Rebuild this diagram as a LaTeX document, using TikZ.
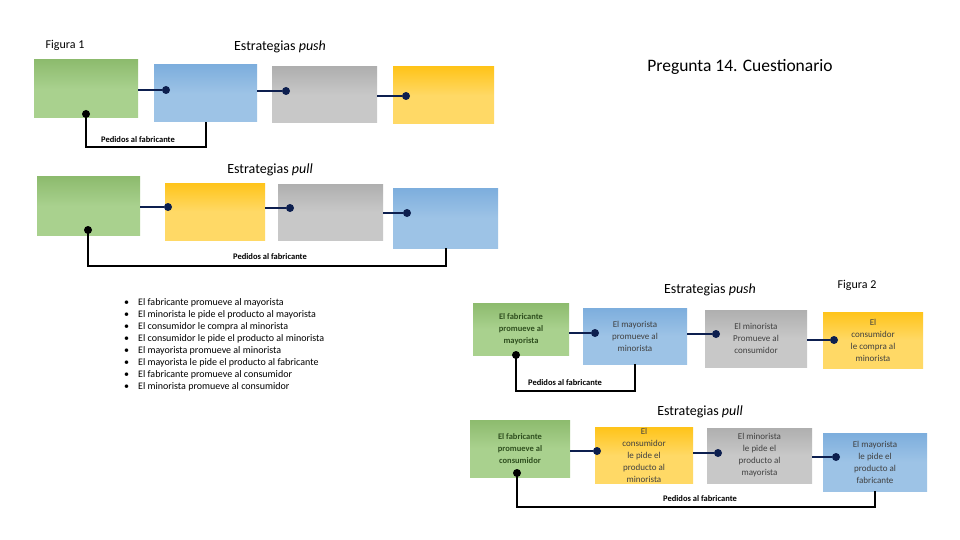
\documentclass[tikz,border=0pt]{standalone}
\usepackage{fontspec}
\setmainfont{Carlito}
\usetikzlibrary{calc}
\definecolor{gfill}{HTML}{A9D18E}
\definecolor{gtop}{HTML}{8DBB6E}
\definecolor{bfill}{HTML}{9DC3E6}
\definecolor{btop}{HTML}{7DAEDD}
\definecolor{rfill}{HTML}{C8C8C8}
\definecolor{rtop}{HTML}{AFAFAF}
\definecolor{yfill}{HTML}{FFD966}
\definecolor{ytop}{HTML}{FFC41A}
\definecolor{navy}{HTML}{0D1F4F}
\definecolor{gtext}{HTML}{2F4F1F}
\definecolor{btext}{HTML}{404040}
\tikzset{
  box/.style={inner sep=1pt, align=center, font=\fontsize{9}{12}\selectfont, text=btext},
  gbox/.style={box, top color=gtop, bottom color=gfill, middle color=gfill, font=\bfseries\fontsize{8.5}{12}\selectfont, text=gtext},
  bbox/.style={box, top color=btop, bottom color=bfill, middle color=bfill},
  rbox/.style={box, top color=rtop, bottom color=rfill, middle color=rfill},
  ybox/.style={box, top color=ytop, bottom color=yfill, middle color=yfill},
  conn/.style={draw=navy, line width=2pt},
  dotn/.style={circle, fill=navy, inner sep=0pt, minimum size=8pt},
  dotk/.style={circle, fill=black, inner sep=0pt, minimum size=8pt},
  fb/.style={draw=black, line width=2pt},
  lbl/.style={font=\bfseries\fontsize{8.5}{10}\selectfont, inner sep=1pt},
  ttl/.style={font=\fontsize{14}{16}\selectfont, inner sep=0pt},
  fig/.style={font=\fontsize{12}{14}\selectfont, inner sep=0pt}
}
\begin{document}
\begin{tikzpicture}[x=1pt,y=-1pt]
\useasboundingbox (0,0) rectangle (960,540);
\fill[white] (0,0) rectangle (960,540);

% ---- Titles
\node[fig] (fig1) at (65,45) {Figura 1};
\node[ttl] (t1) at (280,47) {Estrategias \textit{push}};
\node[font=\fontsize{17.5}{20}\selectfont, inner sep=0pt] (preg) at (740,67) {Pregunta 14. Cuestionario};

% ---- Figure 1 push
\node[gbox, minimum width=104pt, minimum height=58pt] (g1) at (86,89) {};
\node[bbox, minimum width=103pt, minimum height=57pt] (b1) at (205.5,93.5) {};
\node[rbox, minimum width=105pt, minimum height=56pt] (r1) at (324.5,95) {};
\node[ybox, minimum width=101pt, minimum height=57pt] (y1) at (443.5,95.5) {};
\node[dotn] (d11) at (166,90) {};
\node[dotn] (d12) at (286,91) {};
\node[dotn] (d13) at (406,96) {};
\draw[conn] (d11 -| g1.east) -- (d11);
\draw[conn] (d12 -| b1.east) -- (d12);
\draw[conn] (d13 -| r1.east) -- (d13);
\node[dotk] (f1) at (86,114) {};
\coordinate (f1c) at (86,147);
\draw[fb] (f1.center) -- (f1c) -| (b1.south);
\node[lbl] (l1) at (138,140) {Pedidos al fabricante};

% ---- Figure 1 pull
\node[ttl] (t2) at (270,170) {Estrategias \textit{pull}};
\node[gbox, minimum width=103pt, minimum height=58pt] (g2) at (88.5,206) {};
\node[ybox, minimum width=100pt, minimum height=57pt] (y2) at (215,211.5) {};
\node[rbox, minimum width=105pt, minimum height=56pt] (r2) at (330.5,212) {};
\node[bbox, minimum width=105pt, minimum height=60pt] (b2) at (445.5,218) {};
\node[dotn] (d21) at (168,207) {};
\node[dotn] (d22) at (290,208) {};
\node[dotn] (d23) at (407,213) {};
\draw[conn] (d21 -| g2.east) -- (d21);
\draw[conn] (d22 -| y2.east) -- (d22);
\draw[conn] (d23 -| r2.east) -- (d23);
\node[dotk] (f2) at (88,230) {};
\coordinate (f2c) at (88,266);
\draw[fb] (f2.center) -- (f2c) -| (b2.south);
\node[lbl] (l2) at (270,257) {Pedidos al fabricante};

% ---- Bullet list
\node[anchor=north west, inner sep=0pt, font=\fontsize{10}{12}\selectfont, align=left] (list) at (124,297) {%
\begin{tabular}{@{}l@{\hspace{9pt}}l@{}}
\textbullet & El fabricante promueve al mayorista\\
\textbullet & El minorista le pide el producto al mayorista\\
\textbullet & El consumidor le compra al minorista\\
\textbullet & El consumidor le pide el producto al minorista\\
\textbullet & El mayorista promueve al minorista\\
\textbullet & El mayorista le pide el producto al fabricante\\
\textbullet & El fabricante promueve al consumidor\\
\textbullet & El minorista promueve al consumidor
\end{tabular}};

% ---- Figure 2 push
\node[ttl] (t3) at (710,290) {Estrategias \textit{push}};
\node[fig] (fig2) at (857,285) {Figura 2};
\node[gbox, minimum width=96pt, minimum height=52pt] (g3) at (521,329) {El fabricante\\promueve al\\mayorista};
\node[bbox, minimum width=104pt, minimum height=56pt] (b3) at (635,336) {El mayorista\\promueve al\\minorista};
\node[rbox, minimum width=102pt, minimum height=57pt] (r3) at (756,338.5) {El minorista\\Promueve al\\consumidor};
\node[ybox, minimum width=100pt, minimum height=56pt] (y3) at (873,340) {El\\consumidor\\le compra al\\minorista};
\node[dotn] (d31) at (595,333) {};
\node[dotn] (d32) at (716,334) {};
\node[dotn] (d33) at (834,340) {};
\draw[conn] (d31 -| g3.east) -- (d31);
\draw[conn] (d32 -| b3.east) -- (d32);
\draw[conn] (d33 -| r3.east) -- (d33);
\node[dotk] (f3) at (516,355) {};
\coordinate (f3c) at (516,391);
\draw[fb] (f3.center) -- (f3c) -| (b3.south);
\node[lbl] (l3) at (565,383) {Pedidos al fabricante};

% ---- Figure 2 pull
\node[ttl] (t4) at (700,412) {Estrategias \textit{pull}};
\node[gbox, minimum width=100pt, minimum height=57pt] (g4) at (520,448.5) {El fabricante\\promueve al\\consumidor};
\node[ybox, minimum width=98pt, minimum height=55pt] (y4) at (644,455.5) {El\\consumidor\\le pide el\\producto al\\minorista};
\node[rbox, minimum width=105pt, minimum height=55pt] (r4) at (759.5,455.5) {El minorista\\le pide el\\producto al\\mayorista};
\node[bbox, minimum width=104pt, minimum height=58pt] (b4) at (875,462) {El mayorista\\le pide el\\producto al\\fabricante};
\node[dotn] (d41) at (597,451) {};
\node[dotn] (d42) at (718,453) {};
\node[dotn] (d43) at (836,457) {};
\draw[conn] (d41 -| g4.east) -- (d41);
\draw[conn] (d42 -| y4.east) -- (d42);
\draw[conn] (d43 -| r4.east) -- (d43);
\node[dotk] (f4) at (517,473) {};
\coordinate (f4c) at (517,507);
\draw[fb] (f4.center) -- (f4c) -| (b4.south);
\node[lbl] (l4) at (700,499) {Pedidos al fabricante};
\end{tikzpicture}
\end{document}
